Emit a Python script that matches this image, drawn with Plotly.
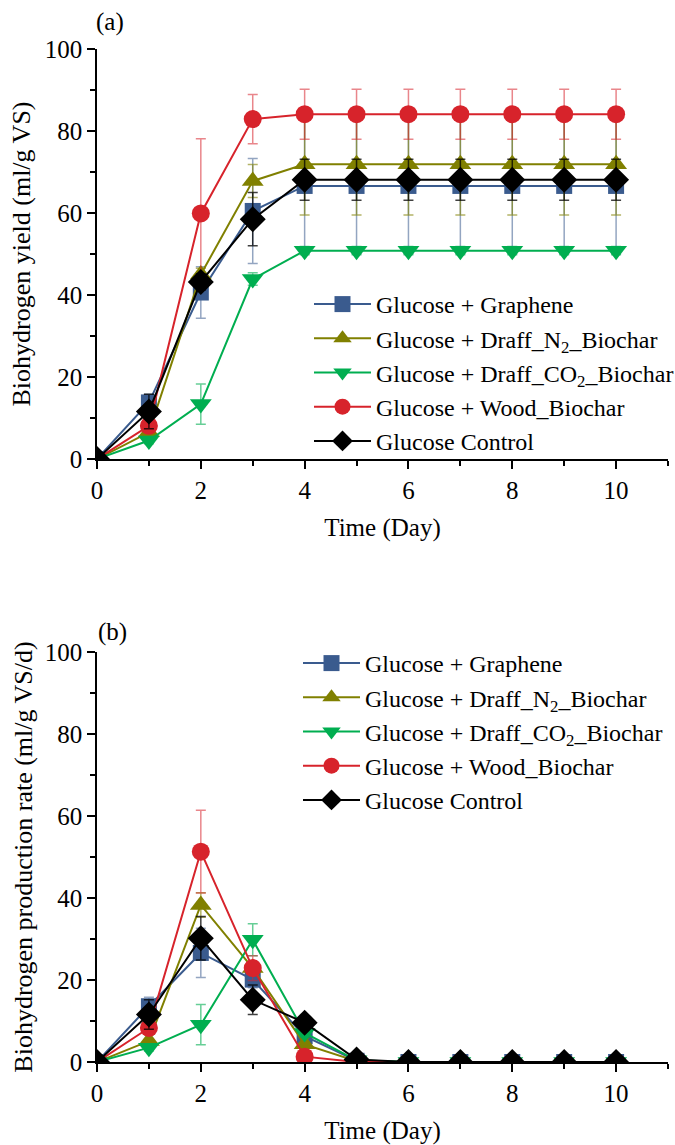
import plotly.graph_objects as go

# Sampling days
days = [0, 1, 2, 3, 4, 5, 6, 7, 8, 9, 10]

series_names = [
    "Glucose + Graphene",
    "Glucose + Draff_N<sub>2</sub>_Biochar",
    "Glucose + Draff_CO<sub>2</sub>_Biochar",
    "Glucose + Wood_Biochar",
    "Glucose Control",
]

# (a) cumulative biohydrogen yield, ml/g VS
yield_graphene = [0, 13.8, 40.6, 60.5, 66.6, 66.6, 66.6, 66.6, 66.6, 66.6, 66.6]
yield_n2 = [0, 6.5, 45.0, 67.8, 71.9, 71.9, 71.9, 71.9, 71.9, 71.9, 71.9]
yield_co2 = [0, 4.5, 13.4, 43.9, 50.8, 50.8, 50.8, 50.8, 50.8, 50.8, 50.8]
yield_wood = [0, 8.1, 59.9, 82.9, 84.1, 84.1, 84.1, 84.1, 84.1, 84.1, 84.1]
yield_control = [0, 11.6, 43.2, 58.5, 68.1, 68.1, 68.1, 68.1, 68.1, 68.1, 68.1]

yield_graphene_err = [0, 2.0, 6.3, 12.8, 16.5, 16.5, 16.5, 16.5, 16.5, 16.5, 16.5]
yield_n2_err = [0, 1.5, 1.5, 4.0, 12.4, 12.4, 12.4, 12.4, 12.4, 12.4, 12.4]
yield_co2_err = [0, 0.8, 4.9, 1.5, 1.0, 1.0, 1.0, 1.0, 1.0, 1.0, 1.0]
yield_wood_err = [0, 1.5, 18.2, 6.0, 6.1, 6.1, 6.1, 6.1, 6.1, 6.1, 6.1]
yield_control_err = [0, 4.2, 2.0, 6.5, 5.0, 5.0, 5.0, 5.0, 5.0, 5.0, 5.0]

# (b) biohydrogen production rate, ml/g VS/d
rate_graphene = [0, 13.6, 26.6, 20.1, 6.3, 0.3, 0, 0, 0, 0, 0]
rate_n2 = [0, 5.1, 38.3, 22.9, 4.3, 0.2, 0, 0, 0, 0, 0]
rate_co2 = [0, 3.5, 9.1, 29.8, 7.1, 0.4, 0, 0, 0, 0, 0]
rate_wood = [0, 8.3, 51.3, 22.9, 1.3, 0, 0, 0, 0, 0, 0]
rate_control = [0, 11.6, 30.2, 15.2, 9.6, 0.6, 0, 0, 0, 0, 0]

rate_graphene_err = [0, 2.2, 6.0, 2.0, 2.0, 0, 0, 0, 0, 0, 0]
rate_n2_err = [0, 1.5, 3.0, 1.5, 1.5, 0, 0, 0, 0, 0, 0]
rate_co2_err = [0, 0.8, 4.9, 3.9, 1.0, 0, 0, 0, 0, 0, 0]
rate_wood_err = [0, 1.5, 10.1, 3.0, 1.0, 0, 0, 0, 0, 0, 0]
rate_control_err = [0, 3.6, 5.3, 3.6, 1.0, 0, 0, 0, 0, 0, 0]

# x / y tick values
x_ticks = [0, 2, 4, 6, 8, 10]
y_ticks = [0, 20, 40, 60, 80, 100]

colors = ["#3A5B8E", "#808000", "#00AE50", "#D7232B", "#000000"]
err_colors = ["rgba(58,91,142,0.55)", "rgba(128,128,0,0.6)", "rgba(0,174,80,0.6)",
              "rgba(215,35,43,0.55)", "rgba(0,0,0,0.75)"]
symbols = ["square", "triangle-up", "triangle-down", "circle", "diamond"]
sizes = [16, 19, 19, 18, 20]

FONT = "Liberation Serif"

fig = go.Figure()

panels = [
    ("x", "y", "legend",
     [yield_graphene, yield_n2, yield_co2, yield_wood, yield_control],
     [yield_graphene_err, yield_n2_err, yield_co2_err, yield_wood_err, yield_control_err]),
    ("x2", "y2", "legend2",
     [rate_graphene, rate_n2, rate_co2, rate_wood, rate_control],
     [rate_graphene_err, rate_n2_err, rate_co2_err, rate_wood_err, rate_control_err]),
]

for xa, ya, leg, vals, errs in panels:
    for i in range(5):
        fig.add_trace(go.Scatter(
            x=days, y=vals[i], xaxis=xa, yaxis=ya, legend=leg,
            name=series_names[i], mode="lines+markers",
            line=dict(color=colors[i], width=2),
            marker=dict(symbol=symbols[i], size=sizes[i], color=colors[i],
                        line=dict(width=0)),
            error_y=dict(type="data", array=errs[i], visible=True,
                         color=err_colors[i], thickness=1.5, width=5),
            cliponaxis=True,
        ))

top_m, bot_m = 49, 83
paper_h = 1145 - top_m - bot_m


def frac(py):
    return (1145 - bot_m - py) / paper_h


axis_common = dict(
    showline=True, linecolor="black", linewidth=1.5, mirror=False,
    ticks="outside", ticklen=8, tickwidth=1.5, tickcolor="black",
    showgrid=False, zeroline=False,
    tickfont=dict(family=FONT, size=25, color="black"),
)

xaxis_cfg = dict(axis_common, range=[0, 11], tickvals=x_ticks,
                 minor=dict(ticks="outside", ticklen=5, tickwidth=1.5,
                            tickcolor="black", dtick=1, tick0=0),
                 title=dict(text="Time (Day)", standoff=16,
                            font=dict(family=FONT, size=25, color="black")))
yaxis_common = dict(axis_common, range=[0, 100], tickvals=y_ticks,
                    minor=dict(ticks="outside", ticklen=5, tickwidth=1.5,
                               tickcolor="black", dtick=10, tick0=0))

fig.update_layout(
    width=675, height=1145,
    margin=dict(l=97, r=7, t=top_m, b=bot_m, autoexpand=False),
    paper_bgcolor="white", plot_bgcolor="white",
    font=dict(family=FONT, color="black"),
    xaxis=dict(xaxis_cfg, domain=[0, 1], anchor="y"),
    yaxis=dict(yaxis_common, domain=[frac(459), 1], anchor="x",
               title=dict(text="Biohydrogen yield (ml/g VS)", standoff=7,
                          font=dict(family=FONT, size=26, color="black"))),
    xaxis2=dict(xaxis_cfg, domain=[0, 1], anchor="y2"),
    yaxis2=dict(yaxis_common, domain=[0, frac(652)], anchor="x2",
                title=dict(text="Biohydrogen production rate (ml/g VS/d)", standoff=5,
                           font=dict(family=FONT, size=26, color="black"))),
    legend=dict(x=(309 - 97) / 571, y=frac(282), xanchor="left", yanchor="top",
                bgcolor="rgba(0,0,0,0)", font=dict(family=FONT, size=24, color="black"),
                itemwidth=57, tracegroupgap=0),
    legend2=dict(x=(298 - 97) / 571, y=frac(641), xanchor="left", yanchor="top",
                 bgcolor="rgba(0,0,0,0)", font=dict(family=FONT, size=24, color="black"),
                 itemwidth=57, tracegroupgap=0),
    annotations=[
        dict(text="(a)", x=(110 - 97) / 571, y=frac(22), xref="paper", yref="paper",
             xanchor="center", yanchor="middle", showarrow=False,
             font=dict(family=FONT, size=25, color="black")),
        dict(text="(b)", x=(112 - 97) / 571, y=frac(632), xref="paper", yref="paper",
             xanchor="center", yanchor="middle", showarrow=False,
             font=dict(family=FONT, size=25, color="black")),
    ],
)

fig.write_html("out.html")
